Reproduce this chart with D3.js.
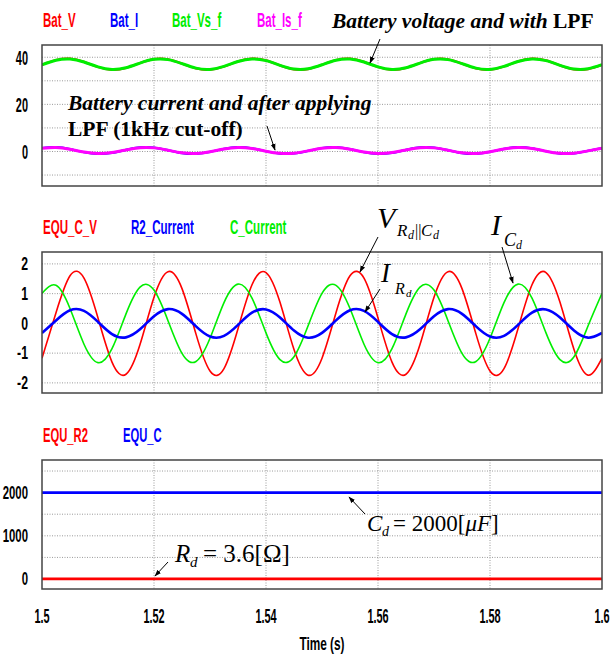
<!DOCTYPE html>
<html>
<head>
<meta charset="utf-8">
<script src="https://cdn.jsdelivr.net/npm/d3@7"></script>
<style>
  body { margin: 0; background: #fff; }
  .grid line { stroke: #9a9a9a; stroke-width: 1; stroke-dasharray: 1,1.5; }
  .frame { fill: none; stroke: #444; stroke-width: 1.5; }
  .series { fill: none; }
  .note { font-family: 'Liberation Serif', 'Times New Roman', serif; fill: #000; }
</style>
</head>
<body>
<div id="chart"></div>
<script>
// sample times (s)
var time = [1.5, 1.5025, 1.505, 1.5075, 1.51, 1.5125, 1.515, 1.5175, 1.52, 1.5225,
  1.525, 1.5275, 1.53, 1.5325, 1.535, 1.5375, 1.54, 1.5425, 1.545, 1.5475,
  1.55, 1.5525, 1.555, 1.5575, 1.56, 1.5625, 1.565, 1.5675, 1.57, 1.5725,
  1.575, 1.5775, 1.58, 1.5825, 1.585, 1.5875, 1.59, 1.5925, 1.595, 1.5975, 1.6];

// top panel
var batV = [36.80, 38.83, 39.40, 38.03, 35.85, 34.66, 35.44, 37.55, 39.24, 39.13,
  37.30, 35.27, 34.70, 36.07, 38.25, 39.44, 38.66, 36.55, 34.86, 34.97,
  36.80, 38.83, 39.40, 38.03, 35.85, 34.66, 35.44, 37.55, 39.24, 39.13,
  37.30, 35.27, 34.70, 36.07, 38.25, 39.44, 38.66, 36.55, 34.86, 34.97, 36.80];
var batVsF = [36.81, 38.72, 39.25, 37.97, 35.93, 34.81, 35.54, 37.52, 39.11, 39.00,
  37.29, 35.38, 34.85, 36.13, 38.18, 39.29, 38.56, 36.58, 34.99, 35.10,
  36.81, 38.72, 39.25, 37.97, 35.93, 34.81, 35.54, 37.52, 39.11, 39.00,
  37.29, 35.38, 34.85, 36.13, 38.18, 39.29, 38.56, 36.58, 34.99, 35.10, 36.81];
var batI = [1.48, 1.82, 0.99, -0.33, -1.04, -0.57, 0.70, 1.73, 1.66, 0.55,
  -0.68, -1.02, -0.19, 1.13, 1.84, 1.37, 0.10, -0.93, -0.86, 0.25,
  1.48, 1.82, 0.99, -0.33, -1.04, -0.57, 0.70, 1.73, 1.66, 0.55,
  -0.68, -1.02, -0.19, 1.13, 1.84, 1.37, 0.10, -0.93, -0.86, 0.25, 1.48];
var batIsF = [1.37, 1.67, 0.93, -0.25, -0.89, -0.47, 0.67, 1.59, 1.53, 0.54,
  -0.57, -0.87, -0.13, 1.05, 1.69, 1.27, 0.13, -0.79, -0.73, 0.26,
  1.37, 1.67, 0.93, -0.25, -0.89, -0.47, 0.67, 1.59, 1.53, 0.54,
  -0.57, -0.87, -0.13, 1.05, 1.69, 1.27, 0.13, -0.79, -0.73, 0.26, 1.37];

// middle panel
var equCV = [-1.17, 0.36, 1.60, 1.52, 0.18, -1.30, -1.71, -0.71, 0.88, 1.74,
  1.17, -0.36, -1.60, -1.52, -0.18, 1.30, 1.71, 0.71, -0.88, -1.74,
  -1.17, 0.36, 1.60, 1.52, 0.18, -1.30, -1.71, -0.71, 0.88, 1.74,
  1.17, -0.36, -1.60, -1.52, -0.18, 1.30, 1.71, 0.71, -0.88, -1.74, -1.17];
var r2Current = [-0.32, 0.10, 0.44, 0.42, 0.05, -0.36, -0.47, -0.20, 0.24, 0.48,
  0.32, -0.10, -0.44, -0.42, -0.05, 0.36, 0.47, 0.20, -0.24, -0.48,
  -0.32, 0.10, 0.44, 0.42, 0.05, -0.36, -0.47, -0.20, 0.24, 0.48,
  0.32, -0.10, -0.44, -0.42, -0.05, 0.36, 0.47, 0.20, -0.24, -0.48, -0.32];
var cCurrent = [1.01, 1.28, 0.50, -0.70, -1.32, -0.85, 0.32, 1.22, 1.12, 0.09,
  -1.01, -1.28, -0.50, 0.70, 1.32, 0.85, -0.32, -1.22, -1.12, -0.09,
  1.01, 1.28, 0.50, -0.70, -1.32, -0.85, 0.32, 1.22, 1.12, 0.09,
  -1.01, -1.28, -0.50, 0.70, 1.32, 0.85, -0.32, -1.22, -1.12, -0.09, 1.01];

// bottom panel
var constTime = [1.5, 1.6];
var equR2 = [3.6, 3.6];
var equC = [2000, 2000];

var xTicks = [1.5, 1.52, 1.54, 1.56, 1.58, 1.6];
var xTickLabels = ["1.5", "1.52", "1.54", "1.56", "1.58", "1.6"];

var width = 613, height = 658;
var left = 42, right = 602;

var svg = d3.select("#chart").append("svg")
  .attr("width", width)
  .attr("height", height);

var x = d3.scaleLinear().domain([1.5, 1.6]).range([left, right]);

function boldLabel(g, px, py, txt, size, sx, color, anchor) {
  return g.append("text")
    .attr("transform", "translate(" + px + "," + py + ") scale(" + sx + ",1)")
    .attr("text-anchor", anchor || "start")
    .style("font-family", "'Liberation Sans', Arial, sans-serif")
    .style("font-weight", "bold")
    .style("font-size", size + "px")
    .attr("fill", color || "#000")
    .text(txt);
}

function Panel(id, top, bottom, domain, grid, ticks, tickSize, tickScale) {
  this.y = d3.scaleLinear().domain(domain).range([bottom, top]);
  this.g = svg.append("g");
  var self = this;

  this.g.append("clipPath").attr("id", "clip-" + id)
    .append("rect")
      .attr("x", left).attr("y", top)
      .attr("width", right - left).attr("height", bottom - top);

  var gg = this.g.append("g").attr("class", "grid");
  gg.selectAll(".hg").data(grid).enter().append("line")
    .attr("class", "hg")
    .attr("x1", left).attr("x2", right)
    .attr("y1", function(d) { return self.y(d); })
    .attr("y2", function(d) { return self.y(d); });
  gg.selectAll(".vg").data(xTicks.slice(1, -1)).enter().append("line")
    .attr("class", "vg")
    .attr("x1", function(d) { return x(d); })
    .attr("x2", function(d) { return x(d); })
    .attr("y1", top).attr("y2", bottom);

  ticks.forEach(function(t) {
    boldLabel(self.g, 28, self.y(t) + tickSize * 0.36, t, tickSize, tickScale, "#000", "end");
  });

  this.lines = this.g.append("g").attr("clip-path", "url(#clip-" + id + ")");

  this.g.append("rect").attr("class", "frame")
    .attr("x", left).attr("y", top)
    .attr("width", right - left).attr("height", bottom - top);
}

Panel.prototype.addSeries = function(ts, vs, color, w, curve) {
  var self = this;
  var line = d3.line()
    .curve(curve || d3.curveNatural)
    .x(function(d) { return x(d[0]); })
    .y(function(d) { return self.y(d[1]); });
  this.lines.append("path")
    .attr("class", "series")
    .attr("stroke", color)
    .attr("stroke-width", w)
    .attr("d", line(d3.zip(ts, vs)));
};

function legend(items, py, size, sx) {
  items.forEach(function(it) {
    boldLabel(svg, it[1], py, it[0], size, sx, it[2]);
  });
}

// top: battery
var p1 = new Panel("p1", 45, 186, [-14.65, 45.2], [-10, 0, 10, 20, 30, 40], [0, 20, 40], 21, 0.52);
p1.addSeries(time, batV, "#ff0000", 2.2);
p1.addSeries(time, batVsF, "#00ee00", 3);
p1.addSeries(time, batI, "#0000ff", 2.2);
p1.addSeries(time, batIsF, "#ff00ff", 3);
legend([["Bat_V", 43, "#ff0000"], ["Bat_I", 110, "#0000ff"],
        ["Bat_Vs_f", 172, "#00ee00"], ["Bat_Is_f", 257, "#ff00ff"]], 27, 19.5, 0.59);

// middle: equivalent RC
var p2 = new Panel("p2", 252, 393, [-2.34, 2.40], [-2, -1, 0, 1, 2], [-2, -1, 0, 1, 2], 17.5, 0.7);
p2.addSeries(time, equCV, "#ff0000", 1.6);
p2.addSeries(time, cCurrent, "#00ee00", 1.6);
p2.addSeries(time, r2Current, "#0000ff", 2.6);
legend([["EQU_C_V", 43, "#ff0000"], ["R2_Current", 131, "#0000ff"],
        ["C_Current", 230, "#00ee00"]], 234, 21, 0.55);

// bottom: parameters
var p3 = new Panel("p3", 460, 589, [-231, 2755], [0, 500, 1000, 1500, 2000, 2500], [0, 1000, 2000], 17.5, 0.65);
p3.addSeries(constTime, equC, "#0000ff", 2.6, d3.curveLinear);
p3.addSeries(constTime, equR2, "#ff0000", 2.6, d3.curveLinear);
legend([["EQU_R2", 43, "#ff0000"], ["EQU_C", 123, "#0000ff"]], 442, 21, 0.535);

// x axis labels
xTicks.forEach(function(t, i) {
  boldLabel(svg, x(t), 623, xTickLabels[i], 21, 0.52, "#000", "middle");
});
boldLabel(svg, (left + right) / 2, 650, "Time (s)", 18.5, 0.64, "#000", "middle");

// annotations
svg.append("defs").append("marker")
  .attr("id", "arr")
  .attr("viewBox", "0 0 10 10")
  .attr("refX", 9).attr("refY", 5)
  .attr("markerWidth", 7).attr("markerHeight", 7)
  .attr("orient", "auto")
  .append("path").attr("d", "M0,1.5 L10,5 L0,8.5 Z").attr("fill", "#000");

var arrows = [
  [380, 39, 370, 63], [267, 126, 275, 150],
  [378, 237, 360, 272], [380, 289, 365, 312], [502, 247, 513, 283],
  [168, 562, 155, 576], [365, 514, 349, 497]
];
svg.selectAll(".arrow").data(arrows).enter().append("line")
  .attr("class", "arrow")
  .attr("x1", function(d) { return d[0]; }).attr("y1", function(d) { return d[1]; })
  .attr("x2", function(d) { return d[2]; }).attr("y2", function(d) { return d[3]; })
  .attr("stroke", "#000").attr("stroke-width", 1)
  .attr("marker-end", "url(#arr)");

var n1 = svg.append("text").attr("class", "note")
  .attr("x", 332).attr("y", 28)
  .style("font-size", "21.5px").style("font-weight", "bold");
n1.append("tspan").style("font-style", "italic").text("Battery voltage and with ");
n1.append("tspan").text("LPF");

svg.append("text").attr("class", "note")
  .attr("x", 68).attr("y", 110)
  .style("font-size", "21.5px").style("font-weight", "bold").style("font-style", "italic")
  .text("Battery current and after applying");
svg.append("text").attr("class", "note")
  .attr("x", 68).attr("y", 136)
  .style("font-size", "21.5px").style("font-weight", "bold")
  .text("LPF (1kHz cut-off)");

function mathText(px, py, parts) {
  var t = svg.append("text").attr("class", "note").attr("x", px).attr("y", py);
  parts.forEach(function(p) {
    t.append("tspan")
      .attr("x", p[3] != null ? px + p[3] : null)
      .attr("y", py + (p[4] || 0))
      .style("font-size", p[1] + "px")
      .style("font-style", p[2] ? "italic" : "normal")
      .text(p[0]);
  });
}

// V_{Rd||Cd}
mathText(377, 228, [["V", 30, true, 0], ["R", 17, true, 20, 8], ["d", 12, true, 31, 11],
  ["||", 16, false, 38, 8], ["C", 17, true, 44, 8], ["d", 12, true, 56, 11]]);
// I_{Rd}
mathText(381, 282, [["I", 27, true, 0], ["R", 16, true, 14, 12], ["d", 11, true, 25, 15]]);
// I_{Cd}
mathText(491, 235, [["I", 30, true, 0], ["C", 18, true, 13, 11], ["d", 12, true, 25, 14]]);

mathText(175, 562, [["R", 25, true, 0], ["d", 15, true, 15, 5], ["= 3.6[Ω]", 25, false, 28]]);
mathText(367, 531, [["C", 23, true, 0], ["d", 14, true, 15, 5], ["= 2000[", 23, false, 26],
  ["μF", 23, true], ["]", 23, false]]);
</script>
</body>
</html>
